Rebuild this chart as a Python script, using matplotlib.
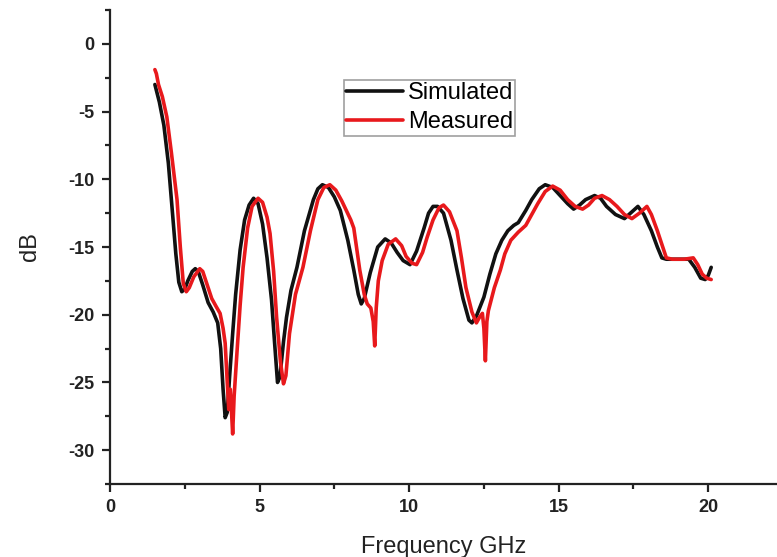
import matplotlib
matplotlib.use("Agg")
import matplotlib.pyplot as plt
from matplotlib.ticker import MultipleLocator

plt.rcParams["axes.unicode_minus"] = False

sim_freq = [1.5, 1.65, 1.8, 1.95, 2.1, 2.2, 2.3, 2.4, 2.5, 2.6, 2.75, 2.85, 2.95, 3.1, 3.28, 3.45, 3.6, 3.7,
            3.78, 3.85, 3.92, 4.0, 4.1, 4.2, 4.35, 4.5, 4.65, 4.8, 4.95, 5.1, 5.25, 5.4, 5.5, 5.6, 5.68, 5.8,
            5.9, 6.05, 6.25, 6.5, 6.8, 6.95, 7.1, 7.3, 7.5, 7.7, 7.95, 8.15, 8.3, 8.4, 8.5, 8.7, 8.95, 9.2,
            9.4, 9.6, 9.8, 10.03, 10.25, 10.5, 10.65, 10.8, 10.95, 11.15, 11.4, 11.6, 11.8, 12.0, 12.1, 12.25,
            12.5, 12.7, 12.9, 13.1, 13.3, 13.5, 13.65, 13.9, 14.1, 14.35, 14.55, 14.8, 15.05, 15.3, 15.5,
            15.7, 15.9, 16.2, 16.4, 16.6, 16.9, 17.2, 17.4, 17.65, 17.85, 18.1, 18.3, 18.45, 18.6, 18.85,
            19.35, 19.55, 19.75, 19.9, 20.0, 20.1]
sim_db = [-3.0, -4.3, -6.0, -8.8, -12.8, -15.5, -17.6, -18.3, -18.1, -17.5, -16.8, -16.6, -16.8, -17.8, -19.1,
          -19.8, -20.6, -22.5, -25.5, -27.6, -27.2, -24.5, -21.4, -18.5, -15.2, -13.0, -11.9, -11.4, -11.8,
          -13.3, -15.8, -18.9, -22.0, -25.0, -24.6, -22.0, -20.2, -18.2, -16.5, -13.8, -11.5, -10.7, -10.4,
          -10.6, -11.3, -12.3, -14.5, -16.7, -18.5, -19.2, -18.8, -16.9, -15.0, -14.4, -14.7, -15.4, -16.0,
          -16.3, -15.3, -13.6, -12.5, -12.0, -12.0, -12.5, -14.5, -16.7, -18.8, -20.4, -20.6, -20.1, -18.7,
          -17.0, -15.5, -14.5, -13.8, -13.4, -13.2, -12.3, -11.5, -10.7, -10.4, -10.6, -11.2, -11.8, -12.2,
          -11.9, -11.5, -11.2, -11.4, -12.0, -12.6, -12.9, -12.5, -12.0, -12.6, -13.8, -15.0, -15.8, -15.9,
          -15.9, -15.9, -16.5, -17.3, -17.4, -17.1, -16.5]

meas_freq = [1.5, 1.55, 1.62, 1.75, 1.9, 2.05, 2.24, 2.35, 2.45, 2.55, 2.65, 2.8, 3.0, 3.1, 3.25, 3.4, 3.55,
             3.68, 3.78, 3.85, 3.92, 3.97, 4.02, 4.07, 4.1, 4.15, 4.25, 4.35, 4.45, 4.6, 4.75, 4.95, 5.1, 5.25,
             5.35, 5.47, 5.57, 5.7, 5.8, 5.88, 6.0, 6.2, 6.45, 6.7, 6.95, 7.15, 7.35, 7.55, 7.75, 7.9, 8.05,
             8.15, 8.35, 8.5, 8.6, 8.72, 8.8, 8.85, 8.9, 8.97, 9.1, 9.3, 9.55, 9.75, 9.9, 10.1, 10.25, 10.45,
             10.6, 10.8, 11.0, 11.15, 11.35, 11.6, 11.75, 11.9, 12.1, 12.25, 12.35, 12.45, 12.5, 12.55, 12.6,
             12.65, 12.85, 13.05, 13.2, 13.4, 13.65, 13.9, 14.1, 14.3, 14.55, 14.8, 15.05, 15.3, 15.55, 15.8,
             16.0, 16.2, 16.45, 16.7, 16.95, 17.2, 17.45, 17.7, 17.95, 18.1, 18.3, 18.45, 18.6, 18.8, 19.2,
             19.5, 19.65, 19.8, 19.95, 20.1]
meas_db = [-1.9, -2.2, -3.0, -3.9, -5.4, -8.0, -11.5, -15.0, -17.7, -18.3, -18.0, -17.2, -16.6, -16.8, -17.8,
           -18.8, -19.4, -19.9, -21.0, -22.1, -25.0, -27.0, -25.5, -27.5, -28.8, -26.0, -22.6, -19.3, -16.5,
           -13.6, -12.0, -11.4, -11.7, -12.8, -14.0, -16.8, -20.2, -23.5, -25.1, -24.5, -21.4, -18.5, -16.5,
           -13.8, -11.5, -10.6, -10.4, -10.8, -11.6, -12.3, -13.0, -13.6, -16.7, -18.5, -19.2, -19.5, -20.5,
           -22.3, -19.5, -17.5, -16.0, -14.8, -14.4, -14.9, -15.7, -16.2, -16.3, -15.4, -14.3, -13.0, -12.1,
           -11.9, -12.4, -13.8, -15.8, -18.0, -19.8, -20.6, -20.2, -19.9, -21.0, -23.4, -20.5, -19.7, -18.0,
           -16.7, -15.5, -14.5, -13.9, -13.4, -12.6, -11.8, -10.9, -10.5, -10.8, -11.5, -12.0, -12.2, -11.9,
           -11.4, -11.2, -11.5, -12.0, -12.6, -12.9, -12.5, -12.0, -12.6, -13.8, -14.8, -15.8, -15.9, -15.9,
           -15.8, -16.3, -17.0, -17.3, -17.4]

x_ticks = [0, 5, 10, 15, 20]
y_ticks = [0, -5, -10, -15, -20, -25, -30]

fig = plt.figure(figsize=(7.77, 5.57), dpi=100)
ax = fig.add_axes([0.1416, 0.131, 1 - 0.1416, 0.851])

ax.plot(sim_freq, sim_db, color="#111111", lw=2.6, label="Simulated",
        solid_joinstyle="round", solid_capstyle="round")
ax.plot(meas_freq, meas_db, color="#e8191c", lw=2.6, label="Measured",
        solid_joinstyle="round", solid_capstyle="round")

ax.set_xlim(0, 22.3)
ax.set_ylim(-32.5, 2.5)
ax.set_xticks(x_ticks)
ax.set_yticks(y_ticks)
ax.xaxis.set_minor_locator(MultipleLocator(2.5))
ax.yaxis.set_minor_locator(MultipleLocator(2.5))

for s in ("top", "right"):
    ax.spines[s].set_visible(False)
for s in ("left", "bottom"):
    ax.spines[s].set_linewidth(1.6)
    ax.spines[s].set_color("#222222")

ax.tick_params(which="major", direction="out", length=6, width=1.6, colors="#222222", labelsize=13, pad=5)
ax.tick_params(which="minor", direction="out", length=3.5, width=1.6, colors="#222222")
for lab in ax.get_xticklabels() + ax.get_yticklabels():
    lab.set_fontweight("bold")
    lab.set_family("Liberation Sans")

ax.set_xlabel("Frequency GHz", fontsize=17, family="Liberation Sans", color="#222222", labelpad=14)
ax.set_ylabel("dB", fontsize=17, family="Liberation Sans", color="#222222", labelpad=20)

leg = ax.legend(loc="upper left", bbox_to_anchor=(344 / 777, 1 - 80 / 557), bbox_transform=fig.transFigure,
                prop={"family": "Liberation Sans", "size": 17}, frameon=True, fancybox=False,
                handlelength=2.4, handletextpad=0.2, borderpad=0.1, labelspacing=0.3, borderaxespad=0)
leg.get_frame().set_edgecolor("#888888")
leg.get_frame().set_linewidth(1.2)

fig.savefig("out.png", dpi=100)
